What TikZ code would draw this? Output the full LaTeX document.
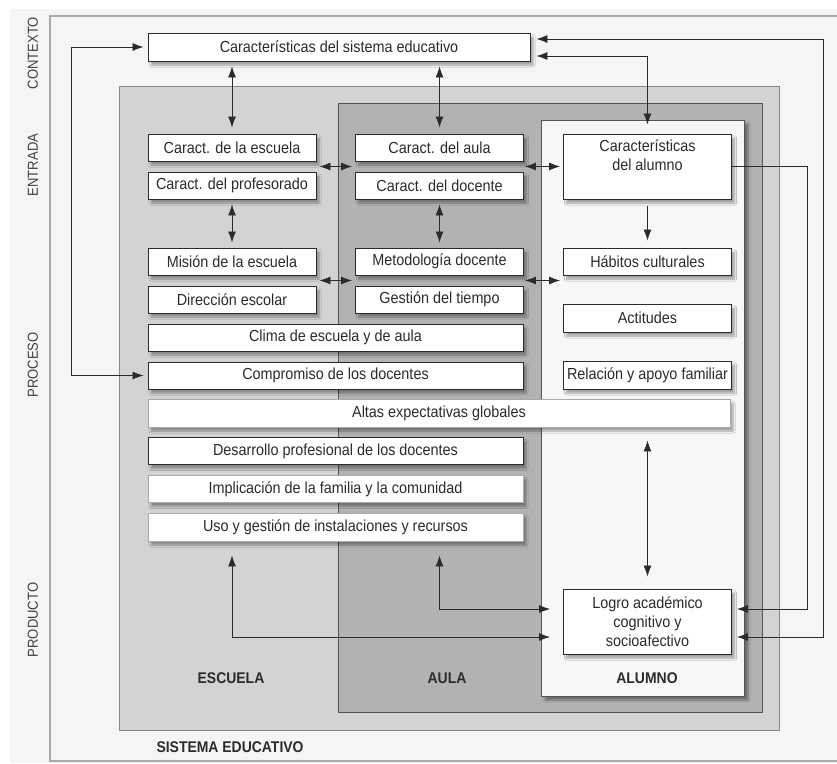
\documentclass[tikz,border=0pt]{standalone}
\usepackage{fontspec}
\setmainfont{Liberation Sans}[FakeStretch=0.9]
\usepackage{tikz}
\usetikzlibrary{arrows.meta, positioning, calc, shadows.blur}
\usepackage{xcolor}
\definecolor{pagegrey}{HTML}{F5F5F5}
\definecolor{framegrey}{HTML}{AAAAAA}
\definecolor{escuelagrey}{HTML}{D3D3D5}
\definecolor{aulagrey}{HTML}{B2B2B2}
\definecolor{alumnogrey}{HTML}{F7F7F7}
\definecolor{inkgrey}{HTML}{2B2B2B}

\begin{document}
\begin{tikzpicture}[
    x=1pt, y=-1pt,
    font=\fontsize{16}{19}\selectfont,
    box/.style={rectangle, draw=inkgrey, line width=0.9pt, fill=white, text=inkgrey, inner sep=0pt,
        minimum width=168pt, minimum height=27pt, align=center,
        blur shadow={shadow xshift=3pt, shadow yshift=-4pt, shadow blur steps=6, shadow opacity=35}},
    faintbox/.style={box, draw=framegrey},
    stage/.style={rotate=90, text=inkgrey!90, font=\fontsize{14.5}{17}\selectfont},
    title/.style={font=\bfseries\fontsize{15.5}{18}\selectfont, text=inkgrey},
    arrow/.style={-{Latex[length=11pt,width=8pt]}, line width=0.8pt, draw=inkgrey},
    dblarrow/.style={{Latex[length=11pt,width=8pt]}-{Latex[length=11pt,width=8pt]}, line width=0.8pt, draw=inkgrey}
]
    \useasboundingbox (0,0) rectangle (837,763);

    % Background areas
    \fill[pagegrey] (10,9) rectangle (837,763);
    \draw[framegrey, line width=1.5pt] (837,16) -- (50,16) -- (50,761) -- (837,761);
    \draw[framegrey!80!black, fill=escuelagrey, line width=1pt] (119,86) rectangle (779,730);
    \draw[inkgrey!80, fill=aulagrey, line width=1pt] (338,103) rectangle (762,712);
    \draw[inkgrey!80, fill=alumnogrey, line width=1pt,
        blur shadow={shadow xshift=4pt, shadow yshift=-4pt, shadow blur steps=6, shadow opacity=40}]
        (541,120) rectangle (744,696);

    % Stages
    \node [stage] (contexto) at (33,53) {CONTEXTO};
    \node [stage] (entrada) at (33,165) {ENTRADA};
    \node [stage] (proceso) at (33,365) {PROCESO};
    \node [stage] (producto) at (33,620) {PRODUCTO};

    % Context
    \node [box, minimum width=382pt, minimum height=28pt] (sis) at (339,47) {Características del sistema educativo};

    % Escuela and aula
    \node [box] (esc) at (232,147.5) {Caract. de la escuela};
    \node [box] (prof) at (232,185.5) {Caract. del profesorado};
    \node [box] (aula) at (439.5,147.5) {Caract. del aula};
    \node [box] (doc) at (439.5,185.5) {Caract. del docente};
    \node [box] (mision) at (232,261.5) {Misión de la escuela};
    \node [box] (dir) at (232,299.5) {Dirección escolar};
    \node [box] (metod) at (439.5,261.5) {Metodología docente};
    \node [box] (gest) at (439.5,299.5) {Gestión del tiempo};
    \node [box, minimum width=375pt] (clima) at (335.5,337.5) {Clima de escuela y de aula};
    \node [box, minimum width=375pt] (comp) at (335.5,375.5) {Compromiso de los docentes};
    \node [faintbox, minimum width=582pt, minimum height=28pt] (altas) at (439,413) {Altas expectativas globales};
    \node [box, minimum width=375pt] (desa) at (335.5,451) {Desarrollo profesional de los docentes};
    \node [faintbox, minimum width=375pt] (impl) at (335.5,489) {Implicación de la familia y la comunidad};
    \node [faintbox, minimum width=375pt, minimum height=28pt] (uso) at (335.5,527) {Uso y gestión de instalaciones y recursos};

    % Alumno
    \node [box, minimum height=65pt, text depth=22pt] (alu) at (647.5,166.5) {Características\\del alumno};
    \node [box] (hab) at (647.5,261.5) {Hábitos culturales};
    \node [box, minimum height=28pt] (acti) at (647.5,318) {Actitudes};
    \node [box, minimum height=28pt] (rel) at (647.5,375) {Relación y apoyo familiar};
    \node [box, minimum height=65pt] (logro) at (647.5,621.5) {Logro académico\\cognitivo y\\socioafectivo};

    % Titles
    \node [title] (tesc) at (231,678) {ESCUELA};
    \node [title] (taula) at (447,678) {AULA};
    \node [title] (talu) at (647,678) {ALUMNO};
    \node [title, anchor=west] (tsis) at (153,747) {SISTEMA EDUCATIVO};

    % Helper points between rows
    \coordinate (escmid) at ($(esc.south east)!0.5!(prof.north east)$);
    \coordinate (aulamidw) at ($(aula.south west)!0.5!(doc.north west)$);
    \coordinate (aulamide) at ($(aula.south east)!0.5!(doc.north east)$);
    \coordinate (mismid) at ($(mision.south east)!0.5!(dir.north east)$);
    \coordinate (metmidw) at ($(metod.south west)!0.5!(gest.north west)$);
    \coordinate (metmide) at ($(metod.south east)!0.5!(gest.north east)$);

    % Connections
    \draw [dblarrow, shorten <=4pt, shorten >=4pt] (sis.west) -- ++(-76,0) |- (comp.west);
    \draw [dblarrow, shorten <=5pt, shorten >=6pt] (esc.north |- sis.south) -- (esc.north);
    \draw [dblarrow, shorten <=5pt, shorten >=6pt] (aula.north |- sis.south) -- (aula.north);
    \draw [dblarrow, shorten <=6pt, shorten >=5pt] ([yshift=8pt]sis.east) -- ++(293,0) |- ([yshift=-15.5pt]logro.east);
    \draw [dblarrow, shorten <=6pt, shorten >=9pt] ([yshift=-9pt]sis.east) -| (alu.north);
    \draw [arrow, shorten >=5pt] (alu.east) -- ++(75,0) |- ([yshift=12.5pt]logro.east);
    \draw [dblarrow, shorten <=3pt, shorten >=3pt] (escmid) -- (aulamidw);
    \draw [dblarrow, shorten <=1pt, shorten >=3pt] (aulamide) -- (alu.west);
    \draw [dblarrow, shorten <=5pt, shorten >=5pt] (prof.south) -- (mision.north);
    \draw [dblarrow, shorten <=5pt, shorten >=5pt] (doc.south) -- (metod.north);
    \draw [dblarrow, shorten <=3pt, shorten >=3pt] (mismid) -- (metmidw);
    \draw [dblarrow, shorten <=1pt, shorten >=3pt] (metmide) -- (metmide -| hab.west);
    \draw [arrow, shorten <=7pt, shorten >=7pt] (alu.south) -- (hab.north);
    \draw [dblarrow, shorten <=13pt, shorten >=12pt] (logro.north |- altas.south) -- (logro.north);
    \draw [dblarrow, shorten <=14pt, shorten >=13pt] (esc.south |- uso.south) |- ([yshift=-15.5pt]logro.west);
    \draw [dblarrow, shorten <=14pt, shorten >=13pt] (aula.south |- uso.south) |- ([yshift=12.5pt]logro.west);
\end{tikzpicture}
\end{document}
